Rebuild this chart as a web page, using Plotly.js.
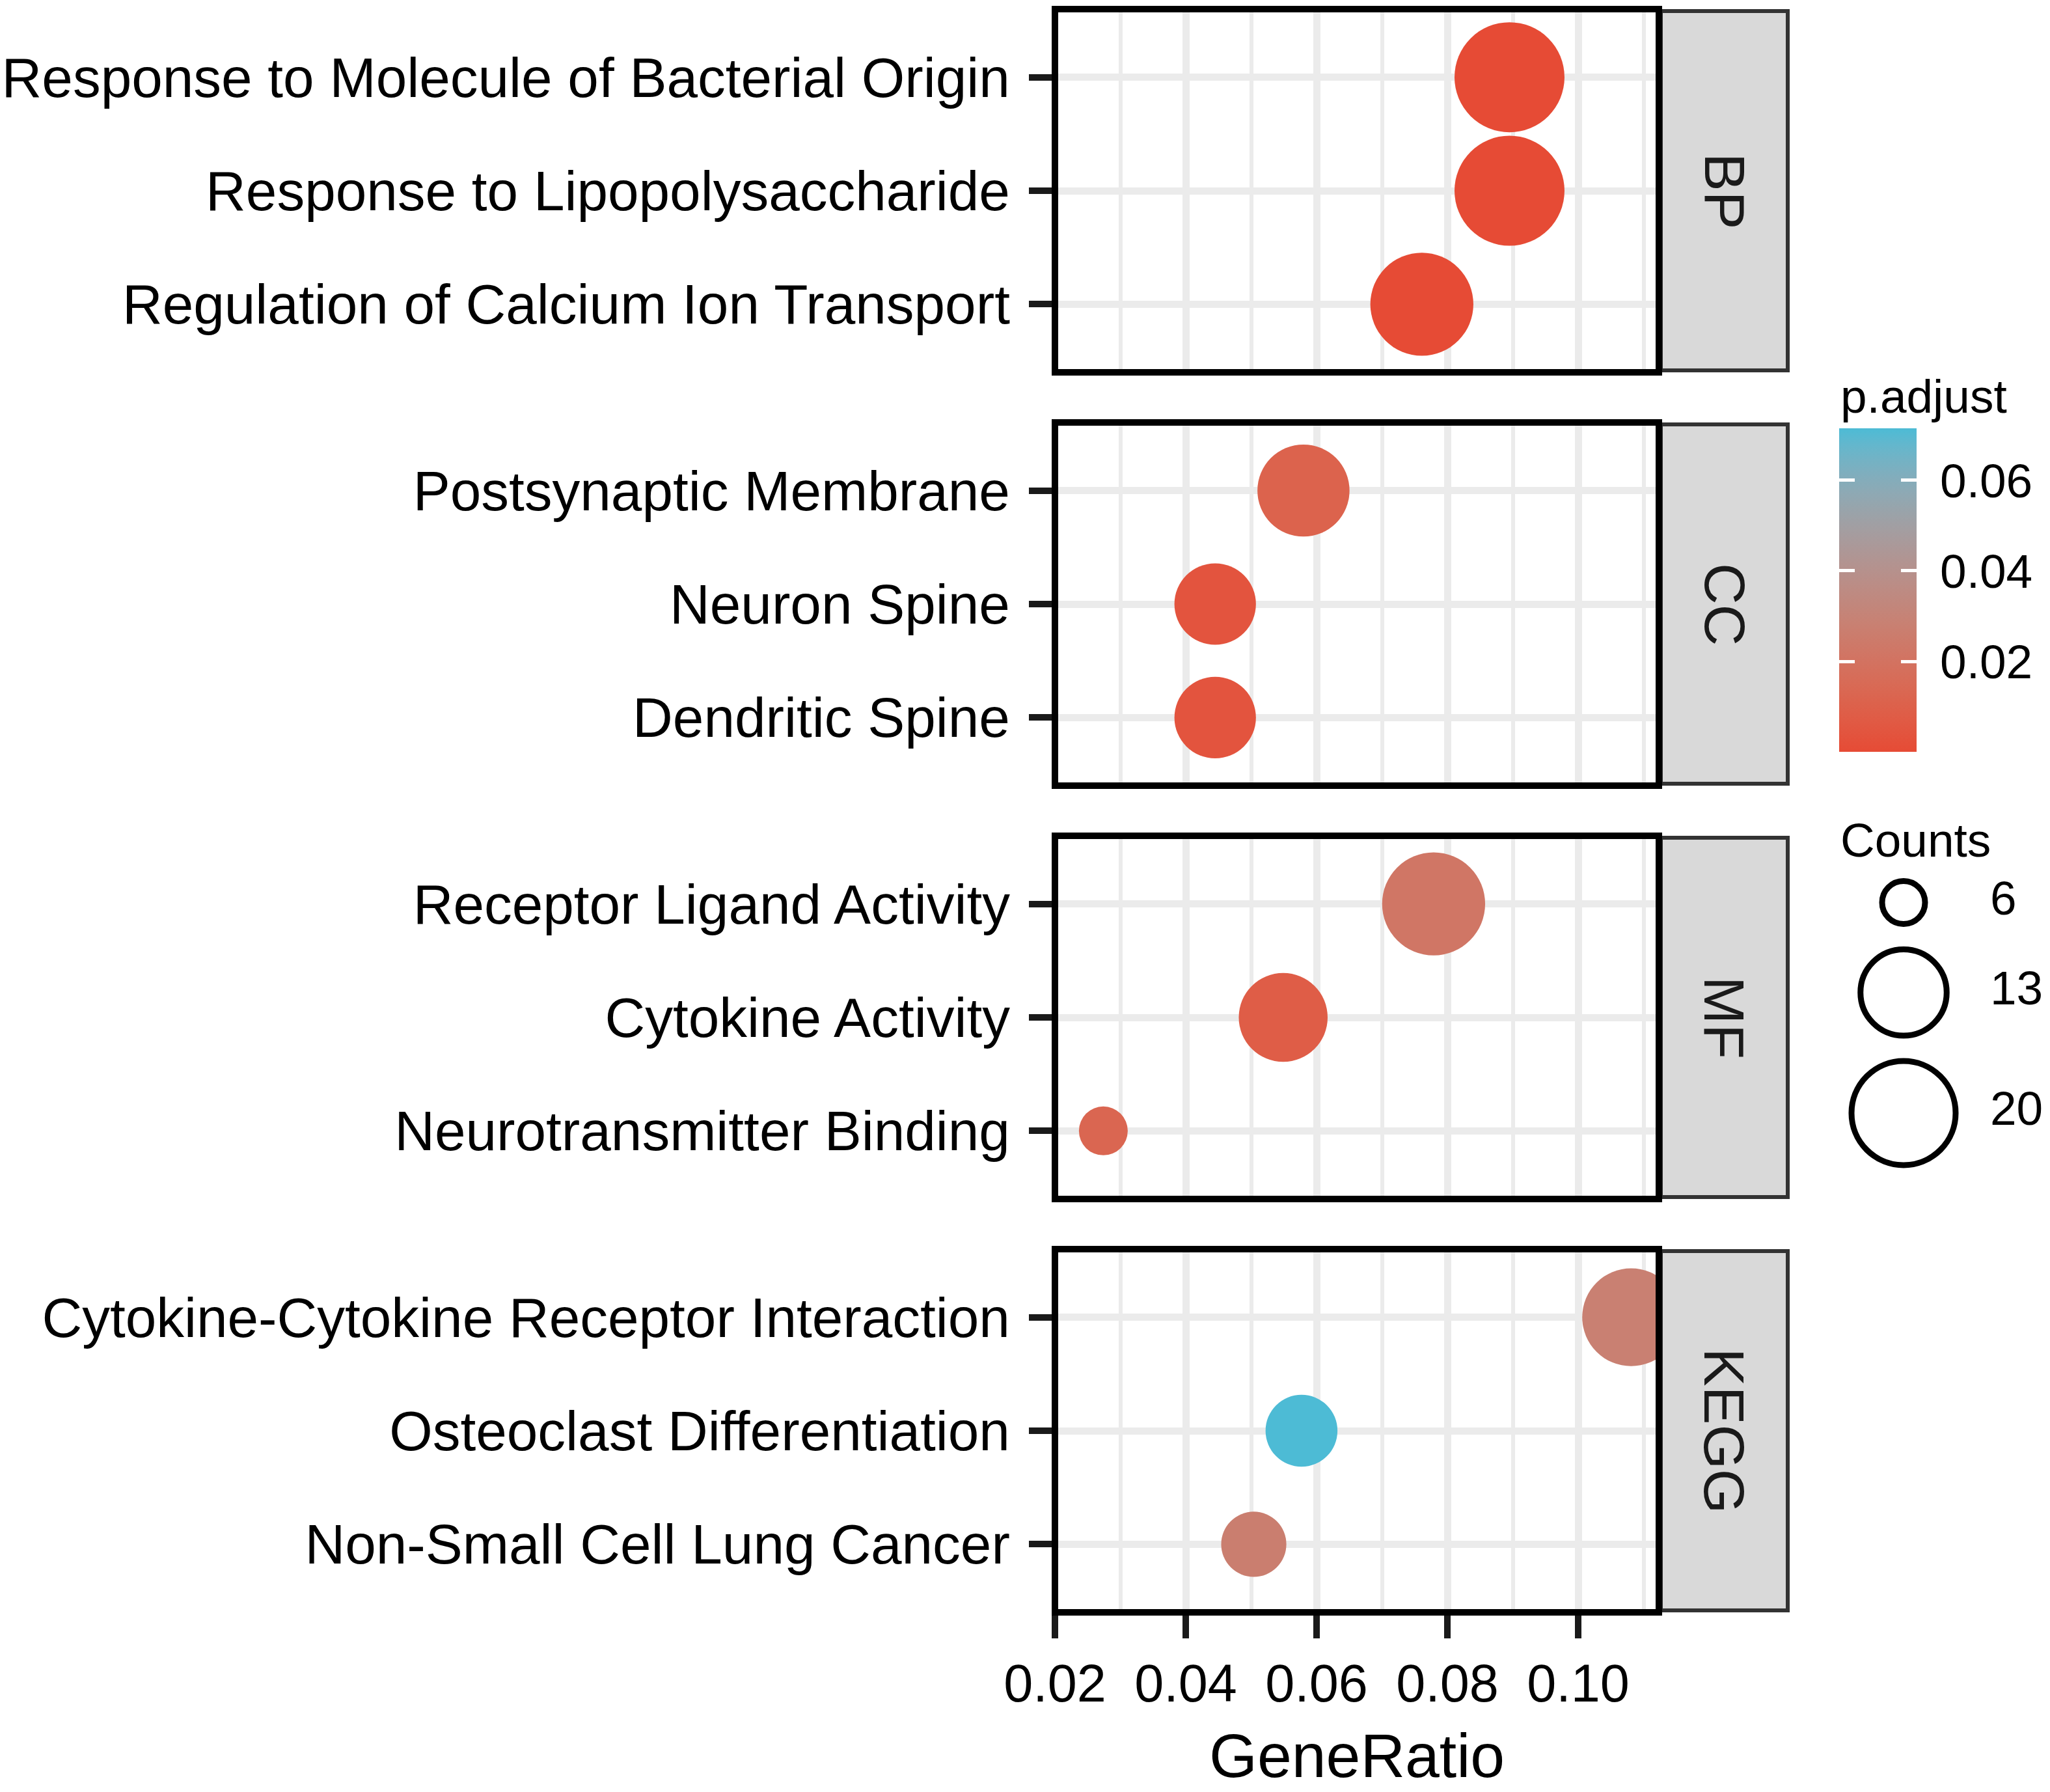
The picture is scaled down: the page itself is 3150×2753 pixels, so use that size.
<!DOCTYPE html>
<html><head><meta charset="utf-8">
<script src="https://cdn.plot.ly/plotly-3.0.1.min.js"></script>
<style>html,body{margin:0;padding:0;background:#fff}</style>
</head><body><div id="chart" style="width:3150px;height:2753px"></div>
<script>
// ---------------- data ----------------
const panelNames = ['BP', 'CC', 'MF', 'KEGG'];

const bpTerms = ['Response to Molecule of Bacterial Origin', 'Response to Lipopolysaccharide', 'Regulation of Calcium Ion Transport'];
const bpRatio = [0.0895, 0.0895, 0.0761];
const bpCount = [20, 20, 17];
const bpPadj  = [0.00001, 0.00001, 0.0002];

const ccTerms = ['Postsynaptic Membrane', 'Neuron Spine', 'Dendritic Spine'];
const ccRatio = [0.0580, 0.0445, 0.0445];
const ccCount = [13, 10, 10];
const ccPadj  = [0.011, 0.004, 0.004];

const mfTerms = ['Receptor Ligand Activity', 'Cytokine Activity', 'Neurotransmitter Binding'];
const mfRatio = [0.0779, 0.0549, 0.0274];
const mfCount = [17, 12, 6];
const mfPadj  = [0.022, 0.008, 0.013];

const keggTerms = ['Cytokine-Cytokine Receptor Interaction', 'Osteoclast Differentiation', 'Non-Small Cell Lung Cancer'];
const keggRatio = [0.1081, 0.0577, 0.0504];
const keggCount = [15, 8, 7];
const keggPadj  = [0.028, 0.0715, 0.027];

const countBreaks = [6, 13, 20];
const padjTicks = [0.02, 0.04, 0.06];
const xTicks = [0.02, 0.04, 0.06, 0.08, 0.10];

// ---------------- styling / geometry ----------------
const W = 3150, H = 2753;
const FONT = 'Liberation Sans, Arial, Helvetica, sans-serif';
const PX = v => v / W;
const PY = v => 1 - v / H;
const panelLeft = 1621, panelRight = 2549;
const panelTops = [14, 649, 1284, 1919];
const panelH = 558;
const xRange = [0.02, 0.02 + (panelRight - panelLeft) / 201 * 0.02];
const lowColor = '#E64B35', highColor = '#4DBBD5';
const GRID = '#EBEBEB';
const LEGFONT = 73;

// Lab interpolation (like ggplot2 gradient)
function hex2rgb(h){h=h.replace('#','');return [0,2,4].map(i=>parseInt(h.substr(i,2),16)/255);}
function lin(c){return c<=0.04045?c/12.92:Math.pow((c+0.055)/1.055,2.4);}
function delin(c){return c<=0.0031308?12.92*c:1.055*Math.pow(c,1/2.4)-0.055;}
function rgb2lab(rgb){
  const [r,g,b]=rgb.map(lin);
  const X=(0.4124564*r+0.3575761*g+0.1804375*b)/0.95047;
  const Y=(0.2126729*r+0.7151522*g+0.0721750*b);
  const Z=(0.0193339*r+0.1191920*g+0.9503041*b)/1.08883;
  const f=t=>t>0.008856?Math.cbrt(t):7.787*t+16/116;
  const fx=f(X),fy=f(Y),fz=f(Z);
  return [116*fy-16,500*(fx-fy),200*(fy-fz)];
}
function lab2rgb(lab){
  const [L,a,b]=lab;
  const fy=(L+16)/116, fx=fy+a/500, fz=fy-b/200;
  const fi=t=>t*t*t>0.008856?t*t*t:(t-16/116)/7.787;
  const X=fi(fx)*0.95047,Y=fi(fy),Z=fi(fz)*1.08883;
  const r= 3.2404542*X-1.5371385*Y-0.4985314*Z;
  const g=-0.9692660*X+1.8760108*Y+0.0415560*Z;
  const bb=0.0556434*X-0.2040259*Y+1.0572252*Z;
  return [r,g,bb].map(c=>Math.round(Math.min(1,Math.max(0,delin(c)))*255));
}
const labLo = rgb2lab(hex2rgb(lowColor)), labHi = rgb2lab(hex2rgb(highColor));
const colorscale = [];
for (let i = 0; i <= 20; i++) {
  const t = i / 20;
  const c = lab2rgb(labLo.map((v, k) => v + (labHi[k] - v) * t));
  colorscale.push([t, 'rgb(' + c.join(',') + ')']);
}

// size scale (area-like, as ggplot scale_size)
const allCounts = [].concat(bpCount, ccCount, mfCount, keggCount);
const cMin = Math.min(...allCounts), cMax = Math.max(...allCounts);
const D1 = 75, D2 = 169;
const diam = c => D1 + (D2 - D1) * Math.sqrt(Math.max(0, (c - cMin) / (cMax - cMin)));

const panelData = [
  {terms: bpTerms, ratio: bpRatio, count: bpCount, padj: bpPadj},
  {terms: ccTerms, ratio: ccRatio, count: ccCount, padj: ccPadj},
  {terms: mfTerms, ratio: mfRatio, count: mfCount, padj: mfPadj},
  {terms: keggTerms, ratio: keggRatio, count: keggCount, padj: keggPadj}
];

const barLeft = 2826, barW = 119, barTop = 658, barBottom = 1155, barLen = barBottom - barTop;

const traces = [];
const layout = {
  width: W, height: H,
  margin: {l: 0, r: 0, t: 0, b: 0},
  paper_bgcolor: '#fff', plot_bgcolor: '#fff',
  showlegend: false,
  font: {family: FONT, color: '#000'},
  shapes: [], annotations: [],
  coloraxis: {
    colorscale: colorscale,
    colorbar: {
      x: PX(barLeft), xanchor: 'left', xpad: 0,
      y: PY((barTop + barBottom) / 2), yanchor: 'middle', ypad: 0,
      len: barLen, lenmode: 'pixels',
      thickness: barW, thicknessmode: 'pixels',
      outlinewidth: 0,
      ticks: 'outside', ticklen: 22, tickwidth: 1, tickcolor: '#ffffff',
      tickvals: padjTicks, ticktext: padjTicks.map(v => v.toFixed(2)),
      tickfont: {family: FONT, size: LEGFONT, color: '#000'},
      title: {text: ''}
    }
  }
};

panelData.forEach((p, i) => {
  const n = i + 1;
  const xa = n === 1 ? 'x' : 'x' + n;
  const ya = n === 1 ? 'y' : 'y' + n;
  const top = panelTops[i], bot = top + panelH;
  const isBottom = i === panelData.length - 1;
  layout['xaxis' + (n === 1 ? '' : n)] = {
    domain: [PX(panelLeft), PX(panelRight)], anchor: ya,
    range: xRange, tickvals: xTicks, ticktext: xTicks.map(v => v.toFixed(2)),
    showgrid: true, gridcolor: GRID, gridwidth: 11,
    minor: {tickvals: [0.03, 0.05, 0.07, 0.09, 0.11], showgrid: true, gridcolor: GRID, gridwidth: 6, ticks: ''},
    zeroline: false, showline: false, automargin: false,
    ticks: isBottom ? 'outside' : '', ticklen: 39, tickwidth: 10, tickcolor: '#1a1a1a',
    showticklabels: isBottom,
    tickfont: {family: FONT, size: 81, color: '#000'}
  };
  layout['yaxis' + (n === 1 ? '' : n)] = {
    domain: [PY(bot), PY(top)], anchor: xa,
    type: 'category', categoryorder: 'array', categoryarray: p.terms.slice().reverse(),
    range: [-0.6, p.terms.length - 0.4],
    showgrid: true, gridcolor: GRID, gridwidth: 11,
    zeroline: false, showline: false, automargin: false,
    ticks: 'outside', ticklen: 39, tickwidth: 10, tickcolor: '#1a1a1a',
    ticklabelstandoff: 12,
    tickfont: {family: FONT, size: 85.5, color: '#000'}
  };
  traces.push({
    type: 'scatter', mode: 'markers', xaxis: xa, yaxis: ya,
    x: p.ratio, y: p.terms,
    marker: {size: p.count.map(diam), color: p.padj, coloraxis: 'coloraxis', line: {width: 0}, opacity: 1},
    cliponaxis: true, hoverinfo: 'skip'
  });
  // strip
  layout.shapes.push({type: 'rect', xref: 'paper', yref: 'paper', layer: 'above',
    x0: PX(2552), x1: PX(2747), y0: PY(bot - 3), y1: PY(top + 3),
    fillcolor: '#D9D9D9', line: {color: '#333333', width: 6}});
  // panel border
  layout.shapes.push({type: 'rect', xref: xa + ' domain', yref: ya + ' domain', layer: 'above',
    x0: 0, x1: 1, y0: 0, y1: 1, fillcolor: 'rgba(0,0,0,0)', line: {color: '#000', width: 10}});
  layout.annotations.push({xref: 'paper', yref: 'paper', x: PX(2650), y: PY(top + panelH / 2),
    text: panelNames[i], textangle: 90, showarrow: false, xanchor: 'center', yanchor: 'middle',
    font: {family: FONT, size: 88, color: '#1a1a1a'}});
});

// x-axis title
layout.annotations.push({xref: 'paper', yref: 'paper', x: PX((panelLeft + panelRight) / 2), y: PY(2697),
  text: 'GeneRatio', showarrow: false, xanchor: 'center', yanchor: 'middle',
  font: {family: FONT, size: 95, color: '#000'}});

// colour legend title
layout.annotations.push({xref: 'paper', yref: 'paper', x: PX(2826), y: PY(608),
  text: 'p.adjust', showarrow: false, xanchor: 'left', yanchor: 'middle',
  font: {family: FONT, size: LEGFONT, color: '#000'}});

// colorbar white ticks on both sides (ggplot style), drawn above the colorbar
const allPadj = [].concat(bpPadj, ccPadj, mfPadj, keggPadj);
const pMin = Math.min(...allPadj), pMax = Math.max(...allPadj);
padjTicks.forEach(v => {
  const ypx = barBottom - (v - pMin) / (pMax - pMin) * barLen;
  [[barLeft, 'left'], [barLeft + barW, 'right']].forEach(([xp, anc]) => {
    layout.annotations.push({xref: 'paper', yref: 'paper', x: PX(xp), y: PY(ypx),
      xanchor: anc, yanchor: 'middle', text: ' ', showarrow: false,
      width: 24, height: 5, bgcolor: '#ffffff', borderpad: 0, borderwidth: 0,
      font: {size: 1, color: '#ffffff'}});
  });
});

// size legend drawn on a pixel-like helper axis pair
const legTop = 1334, keyPad = 30;
let cursor = legTop;
const legY = countBreaks.map(c => { const h = diam(c) + keyPad; const yc = cursor + h / 2; cursor += h; return yc; });
layout.xaxis5 = {domain: [PX(2790), 1], range: [2790, 3150], visible: false, fixedrange: true, anchor: 'y5'};
layout.yaxis5 = {domain: [PY(1850), PY(1240)], range: [1850, 1240], visible: false, fixedrange: true, anchor: 'x5'};
traces.push({type: 'scatter', mode: 'markers', xaxis: 'x5', yaxis: 'y5',
  x: countBreaks.map(() => 2925), y: legY,
  marker: {size: countBreaks.map(c => diam(c) - 9), color: 'rgba(0,0,0,0)', opacity: 1,
           line: {color: '#000', width: 9}},
  cliponaxis: false, hoverinfo: 'skip'});
traces.push({type: 'scatter', mode: 'text', xaxis: 'x5', yaxis: 'y5',
  x: countBreaks.map(() => 3058), y: legY, text: countBreaks.map(String),
  textposition: 'middle right', textfont: {family: FONT, size: LEGFONT, color: '#000'},
  cliponaxis: false, hoverinfo: 'skip'});
layout.annotations.push({xref: 'paper', yref: 'paper', x: PX(2826), y: PY(1290),
  text: 'Counts', showarrow: false, xanchor: 'left', yanchor: 'middle',
  font: {family: FONT, size: LEGFONT, color: '#000'}});

Plotly.newPlot('chart', traces, layout, {staticPlot: true, displayModeBar: false});
</script></body></html>
